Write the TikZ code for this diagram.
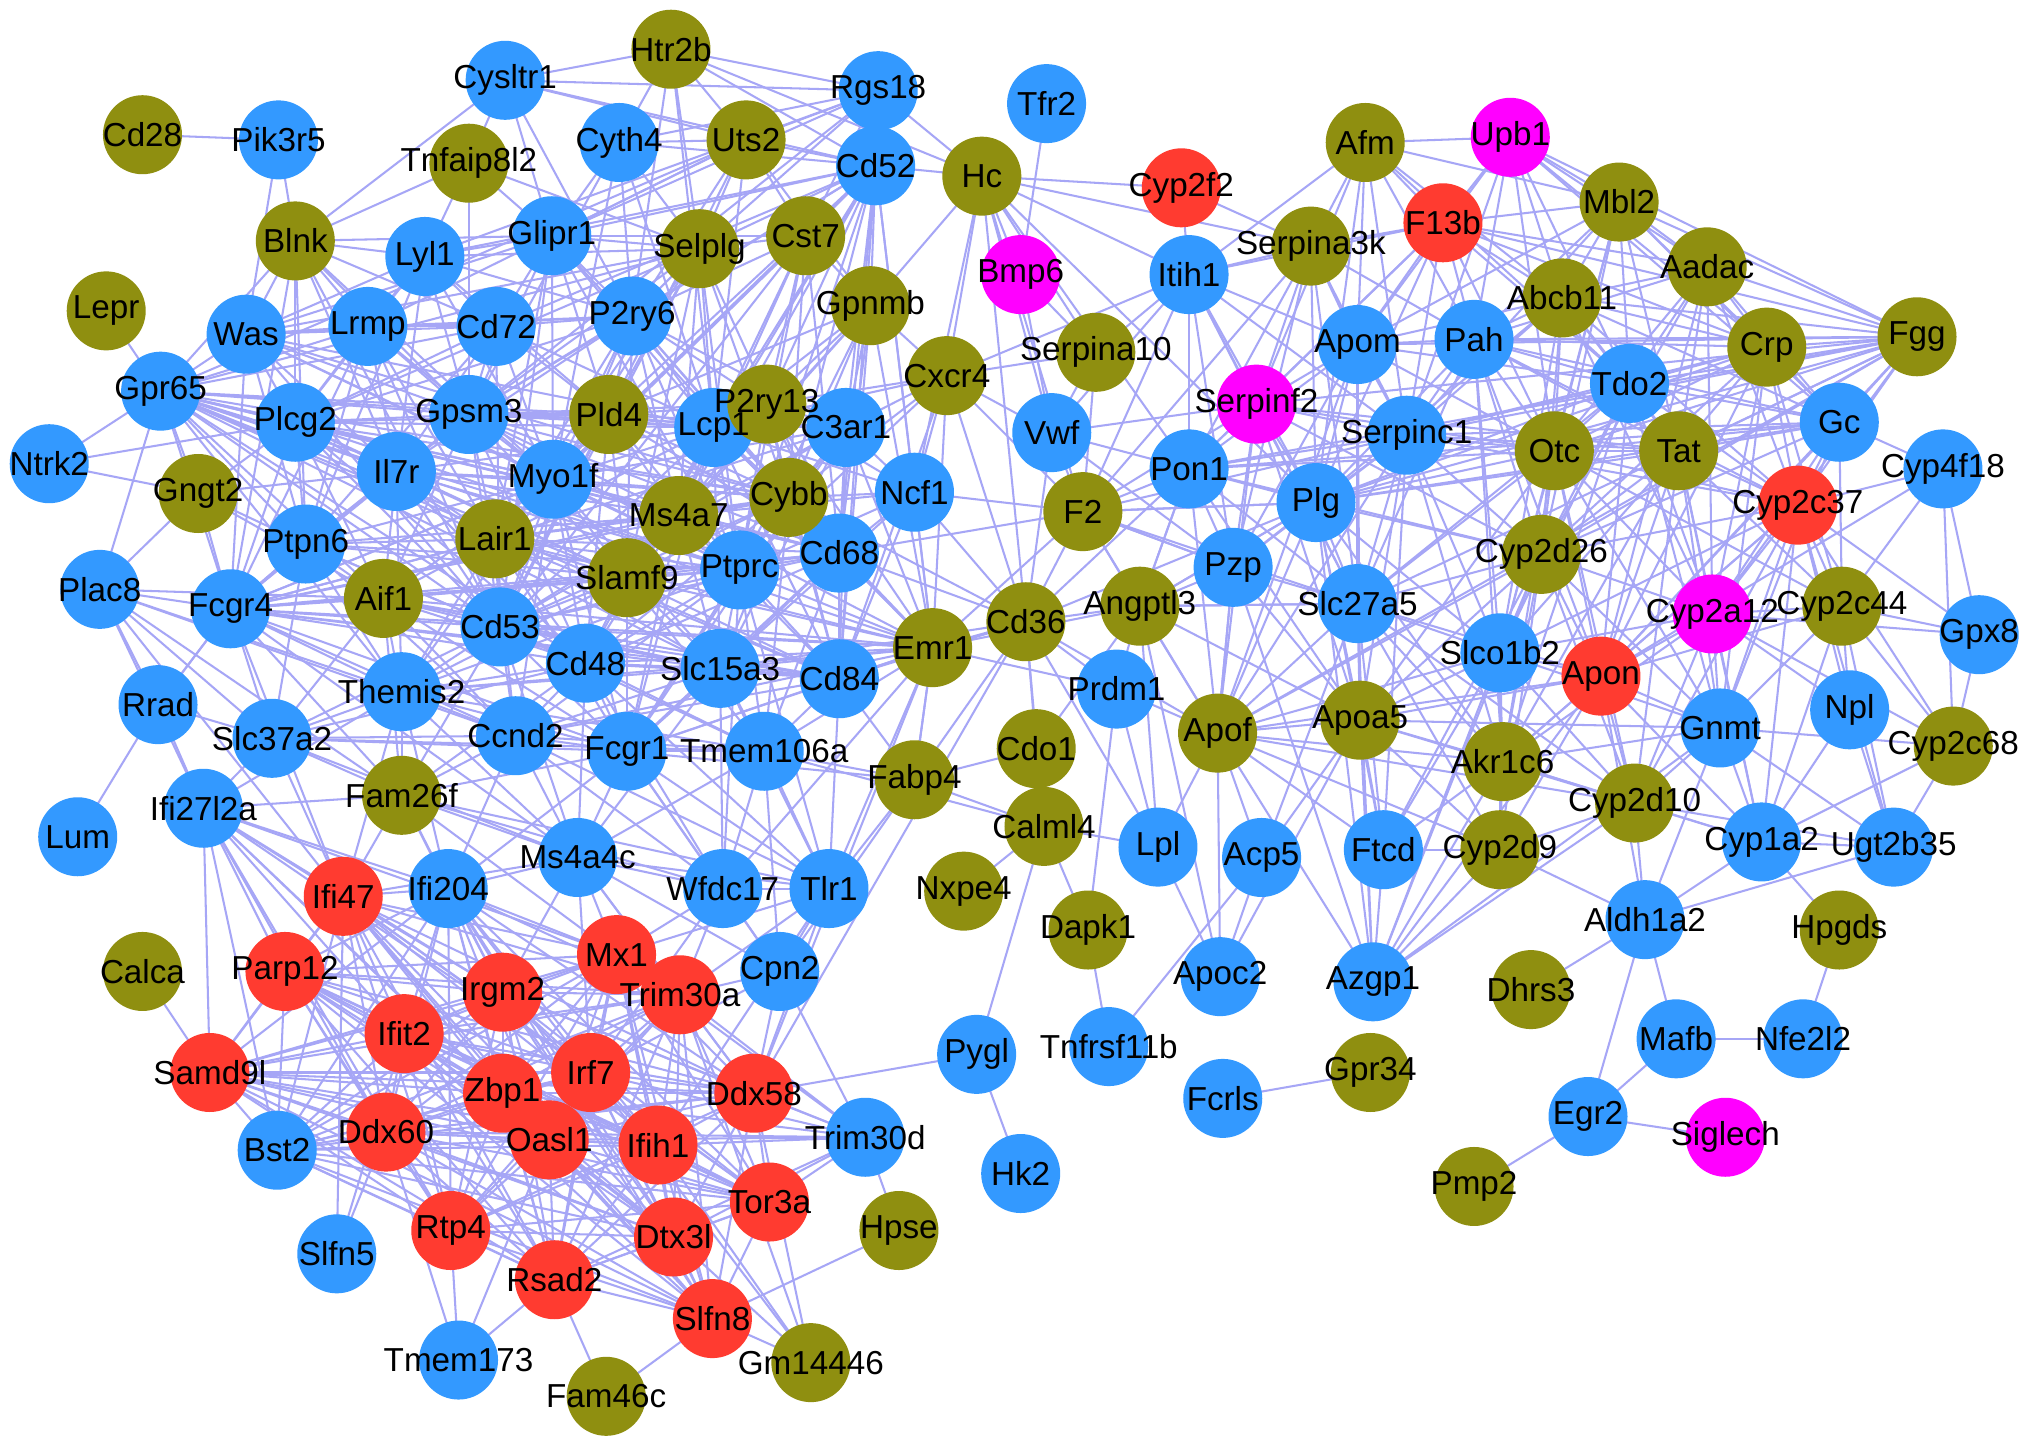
\documentclass[tikz,border=0pt]{standalone}
\usepackage{fontspec}
\setmainfont{Liberation Sans}
\definecolor{cblue}{RGB}{51,153,255}
\definecolor{colive}{RGB}{143,143,16}
\definecolor{cred}{RGB}{255,59,48}
\definecolor{cmag}{RGB}{255,0,255}
\definecolor{cedge}{RGB}{166,166,246}
\pgfdeclarelayer{back}
\pgfdeclarelayer{bg}
\pgfdeclarelayer{fg}
\pgfsetlayers{back,bg,main,fg}
\tikzset{
  gene/.style={circle,minimum size=6.1mm,inner sep=0pt,draw=none},
  lbl/.style={inner sep=0pt,font=\fontsize{7.3}{8.6}\selectfont,text=black},
  edge/.style={draw=cedge,line width=0.45pt}
}
\newcommand\genegroup[2]{%
  \foreach \n/\x/\y in {#2}{%
    \node[gene,fill=#1] (\n) at (\x,\y) {};
    \begin{pgfonlayer}{fg}\node[lbl] (\n-l) at (\x,\y) {\n};\end{pgfonlayer}
  }}
\begin{document}
\begin{tikzpicture}[x=0.1mm,y=-0.1mm]
\useasboundingbox (0,0) rectangle (1568,1119);
\begin{pgfonlayer}{back}\fill[white] (0,0) rectangle (1568,1119);\end{pgfonlayer}
% ---------------- nodes ----------------
\genegroup{cblue}{Pik3r5/215/108, Cysltr1/390/62, Rgs18/678/70, Tfr2/808/80, Cyth4/478/110, Cd52/676/128, Lyl1/328/198, Glipr1/426/182, Was/190/258, Lrmp/284/252, Cd72/383/252, P2ry6/488/244, Gpr65/124/302, Plcg2/228/326, Gpsm3/362/320, Lcp1/551/330, C3ar1/653/330, Vwf/812/334, Ntrk2/38/358, Il7r/306/364, Myo1f/427/370, Ncf1/706/380, Ptpn6/236/420, Ptprc/571/440, Cd68/648/427, Plac8/77/455, Fcgr4/178/470, Cd53/386/484, Cd48/452/512, Slc15a3/556/516, Cd84/648/524, Themis2/310/534, Rrad/122/544, Slc37a2/210/570, Ccnd2/398/568, Fcgr1/484/580, Tmem106a/590/580, Prdm1/862/532, Ifi27l2a/157/624, Lum/60/646, Ms4a4c/446/662, Ifi204/346/686, Wfdc17/558/686, Tlr1/640/686, Lpl/894/654, Cpn2/602/750, Pygl/754/814, Tnfrsf11b/856/808, Bst2/214/888, Trim30d/668/878, Hk2/788/906, Slfn5/260/968, Tmem173/354/1050, Itih1/918/212, Apom/1048/266, Pah/1138/262, Serpinc1/1086/336, Tdo2/1258/296, Gc/1420/326, Pon1/918/362, Cyp4f18/1500/362, Plg/1016/388, Pzp/952/438, Slc27a5/1048/466, Gpx8/1528/490, Slco1b2/1158/504, Npl/1428/548, Gnmt/1328/562, Acp5/974/662, Ftcd/1068/656, Cyp1a2/1360/650, Ugt2b35/1462/654, Aldh1a2/1270/710, Apoc2/942/754, Azgp1/1060/758, Mafb/1294/802, Nfe2l2/1392/802, Fcrls/944/848, Egr2/1226/862}
\genegroup{colive}{Cd28/110/104, Htr2b/518/38, Tnfaip8l2/362/126, Uts2/576/108, Hc/758/136, Blnk/228/186, Selplg/540/192, Cst7/622/182, Lepr/82/240, Gpnmb/672/236, Cxcr4/731/290, Serpina10/846/272, Pld4/470/320, P2ry13/592/312, Gngt2/153/381, Ms4a7/524/398, Cybb/609/384, F2/836/395, Lair1/382/416, Slamf9/484/446, Aif1/296/462, Emr1/720/500, Cd36/792/480, Angptl3/880/468, Fabp4/706/602, Cdo1/800/578, Fam26f/310/614, Calml4/806/638, Calca/110/750, Nxpe4/744/688, Dapk1/840/718, Hpse/694/950, Gm14446/626/1052, Fam46c/468/1078, Afm/1054/110, Mbl2/1250/156, Serpina3k/1012/190, Abcb11/1206/230, Aadac/1318/206, Crp/1364/268, Fgg/1480/260, Otc/1200/348, Tat/1296/348, Cyp2d26/1190/428, Cyp2c44/1422/468, Apof/940/566, Apoa5/1050/556, Cyp2c68/1508/576, Akr1c6/1160/588, Cyp2d10/1262/620, Cyp2d9/1158/656, Hpgds/1420/718, Dhrs3/1182/764, Gpr34/1058/828, Pmp2/1138/916}
\genegroup{cred}{Cyp2f2/912/145, Ifi47/265/692, Mx1/476/737, Parp12/220/750, Irgm2/388/766, Trim30a/525/768, Ifit2/312/798, Samd9l/162/828, Zbp1/388/844, Irf7/456/828, Ddx58/582/844, Ddx60/298/874, Oasl1/424/880, Ifih1/508/884, Tor3a/594/928, Rtp4/348/950, Dtx3l/520/955, Rsad2/428/988, Slfn8/550/1018, F13b/1114/172, Cyp2c37/1388/390, Apon/1236/522}
\genegroup{cmag}{Upb1/1166/106, Bmp6/788/212, Serpinf2/970/312, Cyp2a12/1322/474, Siglech/1332/878}
% ---------------- edges ----------------
\begin{pgfonlayer}{bg}
\def\redset{Ifi47,Parp12,Mx1,Irgm2,Trim30a,Ifit2,Samd9l,Zbp1,Irf7,Ddx58,Ddx60,Oasl1,Ifih1,Rtp4,Dtx3l,Rsad2,Tor3a,Slfn8,Ifi204,Bst2}
\foreach \a [count=\i] in \redset {
  \foreach \b [count=\j] in \redset {
    \ifnum\j>\i \draw[edge] (\a.center) -- (\b.center); \fi
  }
}
\foreach \a/\bs in {
Cd28/{Pik3r5}, Pik3r5/{Blnk,Was}, Lepr/{Gpr65},
Cysltr1/{Htr2b,Rgs18,Uts2,Blnk,Glipr1,Cd52,P2ry6,Tnfaip8l2},
Htr2b/{Rgs18,Uts2,Cyth4,Selplg,P2ry6,Hc,Cd52,Lcp1},
Rgs18/{Uts2,Cd52,Hc,Cyth4,Selplg,Glipr1,Lyl1,Cst7,Gpsm3},
Tnfaip8l2/{Lyl1,Glipr1,Blnk,Selplg,Gpsm3},
Blnk/{Lyl1,Was,Gpr65,Lrmp,Cd72,Plcg2,Ptpn6,Il7r,Gpsm3,Myo1f,Glipr1,Cd53,Fcgr4},
Cd52/{Selplg,Cst7,Gpnmb,P2ry6,P2ry13,Lcp1,C3ar1,Cybb,Ncf1,Pld4,Gpsm3,Ptprc,Cd68,Myo1f,Cd84,Glipr1,Cyth4,Lyl1,Cd72,Ms4a7,Slamf9,Emr1,Hc,Uts2},
Hc/{Cyp2f2,Bmp6,Cxcr4,Vwf,F2,Serpina10,Gpnmb,Pon1,Itih1,Cd36,Ncf1,Plg,Serpina3k},
Tfr2/{Bmp6}, Bmp6/{Vwf,Serpina10}, Cyp2f2/{Itih1,Serpina3k},
Was/{Gpr65,Lrmp,Plcg2,Cd72,Glipr1,Lyl1,Ptpn6,Il7r,Gpsm3,Myo1f,Fcgr4,Cd53,Ptprc,Lcp1,Cybb,P2ry6},
Lyl1/{Glipr1,Lrmp,Cd72,Gpsm3,Il7r,Myo1f,Plcg2,Ptpn6,Pld4,P2ry6,Selplg},
Glipr1/{Selplg,Cd72,P2ry6,Gpsm3,Myo1f,Pld4,Lcp1,Cyth4,Uts2,Cst7,Ptprc,Lair1,Cd53,Lrmp,Cybb},
Selplg/{Cst7,P2ry6,Gpsm3,Myo1f,Lcp1,Ptprc,Cybb,Ms4a7,Cd53,Lair1,Pld4,Uts2,Cyth4,Cd68,Slamf9,Was,Plcg2,Gpr65},
Cyth4/{Uts2,P2ry6,Gpsm3,Myo1f,Lcp1},
Uts2/{Cst7,Gpnmb,Glipr1,P2ry6,Lcp1,Cd53,Gpr65},
Cst7/{Gpnmb,P2ry6,Lcp1,Ptprc,Cybb,Ms4a7,Cd68,Myo1f,P2ry13,Lair1,Cd53},
Gpnmb/{Cxcr4,Lcp1,Cd68,C3ar1,Ptprc,Cybb,Ms4a7,P2ry13,Emr1,Cd84,Slamf9,Pld4},
Cxcr4/{Vwf,F2,C3ar1,Ncf1,Lcp1,Cd84,Ptprc,Emr1,Serpina10,Cybb,P2ry13,Itih1},
Lrmp/{Gpr65,Plcg2,Cd72,Gpsm3,Il7r,Myo1f,Ptpn6,Cd53,Fcgr4,Lair1,P2ry6},
Cd72/{Gpsm3,P2ry6,Plcg2,Il7r,Myo1f,Pld4,Ptpn6,Lcp1,Cd53,Gpr65},
P2ry6/{Gpsm3,Pld4,Lcp1,Myo1f,Ms4a7,Cybb,Ptprc,P2ry13,C3ar1,Cd53,Cd68,Lair1,Slamf9,Il7r,Plcg2},
Gpr65/{Ntrk2,Plcg2,Gngt2,Il7r,Ptpn6,Fcgr4,Aif1,Myo1f,Gpsm3,Lair1,Cd53,Cd48,Ptprc,Lcp1,Slamf9,Ms4a7,Cybb,Themis2,Plac8,Cd68,Pld4,Slc15a3,Cd84,Emr1},
Ntrk2/{Gngt2,Plcg2},
Plcg2/{Gpsm3,Il7r,Ptpn6,Myo1f,Lair1,Cd53,Fcgr4,Aif1,Gngt2,Ptprc,Lcp1,Pld4,Ms4a7,Cybb,Cd48,Slamf9},
Gpsm3/{Pld4,Lcp1,Il7r,Myo1f,Ptpn6,Lair1,Cd53,Ms4a7,Ptprc,Cybb,P2ry13,C3ar1,Cd68,Slamf9,Fcgr4,Aif1,Cd48},
Pld4/{Lcp1,P2ry13,Myo1f,Ms4a7,Cybb,Ptprc,Cd68,C3ar1,Lair1,Slamf9,Cd53,Cd48},
P2ry13/{Lcp1,C3ar1,Cybb,Ms4a7,Cd68,Ptprc,Ncf1,Emr1,Cd84},
Lcp1/{C3ar1,Myo1f,Ms4a7,Cybb,Ptprc,Cd68,Slamf9,Lair1,Cd53,Cd48,Slc15a3,Cd84,Ncf1,Il7r,Fcgr1,Emr1},
C3ar1/{Ncf1,Cybb,Ms4a7,Ptprc,Cd68,Cd84,Slc15a3,Emr1,Fcgr1,Myo1f,Lair1,Cd53},
Gngt2/{Ptpn6,Fcgr4,Il7r,Aif1},
Il7r/{Myo1f,Ptpn6,Lair1,Cd53,Fcgr4,Aif1,Ms4a7,Ptprc,Cybb,Slamf9,Cd48,Themis2},
Myo1f/{Ms4a7,Cybb,Lair1,Slamf9,Ptprc,Cd68,Cd53,Cd48,Slc15a3,Aif1,Ptpn6,Fcgr4,Fcgr1,Themis2,Ccnd2},
Ms4a7/{Cybb,Slamf9,Ptprc,Cd68,Lair1,Cd53,Cd48,Slc15a3,Cd84,Emr1,Fcgr1,Ncf1},
Cybb/{Ncf1,Ptprc,Cd68,Slamf9,Cd84,Slc15a3,Emr1,Cd53,Cd48,Lair1,Fcgr1,Tmem106a,Cd36},
Ncf1/{Cd68,Ptprc,Emr1,Cd84,Slc15a3,F2},
Ptpn6/{Lair1,Aif1,Fcgr4,Cd53,Themis2,Slamf9,Cd48,Ptprc,Ms4a7,Slc37a2,Ccnd2},
Lair1/{Slamf9,Aif1,Cd53,Cd48,Ptprc,Cd68,Slc15a3,Fcgr4,Themis2,Ccnd2,Fcgr1,Cd84,Emr1},
Slamf9/{Ptprc,Cd68,Cd53,Cd48,Slc15a3,Cd84,Emr1,Fcgr1,Aif1,Themis2,Tmem106a},
Ptprc/{Cd68,Cd53,Cd48,Slc15a3,Cd84,Emr1,Fcgr1,Tmem106a,Aif1,Themis2,Ccnd2,Fcgr4,Tlr1,Wfdc17},
Cd68/{Cd84,Emr1,Slc15a3,Cd48,Cd53,Fcgr1,Tmem106a,Cd36,Aif1,Fcgr4},
Plac8/{Fcgr4,Aif1,Rrad,Ifi27l2a,Slc37a2,Fam26f,Themis2,Ifi47,Ccnd2,Gngt2},
Fcgr4/{Aif1,Cd53,Themis2,Slc37a2,Ccnd2,Cd48,Slc15a3,Fcgr1,Ms4a4c,Lair1,Slamf9,Cd84,Emr1,Fam26f,Ifi47,Rrad,Ptpn6,Myo1f,Ms4a7,Cybb},
Aif1/{Cd53,Cd48,Themis2,Slc15a3,Fcgr1,Ccnd2,Cd84,Emr1,Slc37a2,Fam26f},
Cd53/{Cd48,Slc15a3,Cd84,Emr1,Fcgr1,Themis2,Ccnd2,Tmem106a,Fam26f,Ms4a4c,Slc37a2},
Cd48/{Slc15a3,Cd84,Emr1,Fcgr1,Themis2,Ccnd2,Tmem106a,Ms4a4c,Fam26f,Slc37a2,Wfdc17,Tlr1},
Slc15a3/{Cd84,Emr1,Fcgr1,Tmem106a,Ccnd2,Themis2,Tlr1,Wfdc17,Ms4a4c,Cd36},
Cd84/{Emr1,Fcgr1,Tmem106a,Ccnd2,Tlr1,Cd36,Fabp4},
Emr1/{Cd36,Fcgr1,Tmem106a,Tlr1,Fabp4,Angptl3,Prdm1,F2,Ccnd2,Themis2,Wfdc17,Ddx58},
Themis2/{Slc37a2,Ccnd2,Fcgr1,Fam26f,Ms4a4c,Ifi27l2a,Ifi47,Ifi204,Tmem106a},
Rrad/{Lum,Slc37a2,Ifi27l2a,Fcgr4},
Slc37a2/{Ccnd2,Fcgr1,Fam26f,Ifi27l2a,Ms4a4c,Ifi47,Tmem106a},
Ccnd2/{Fcgr1,Tmem106a,Fam26f,Ms4a4c,Ifi204,Wfdc17,Tlr1},
Fcgr1/{Tmem106a,Ms4a4c,Wfdc17,Tlr1,Ifi204,Fam26f,Cpn2,Fabp4},
Tmem106a/{Tlr1,Wfdc17,Ms4a4c,Fabp4,Cpn2,Calml4},
Fam26f/{Ms4a4c,Ifi204,Ifi47,Ifi27l2a,Tlr1,Wfdc17,Mx1,Irgm2},
Ifi27l2a/{Ifi47,Parp12,Samd9l,Ifit2,Irgm2,Ddx60,Bst2,Mx1,Zbp1,Irf7,Rtp4,Oasl1,Ifi204},
Calca/{Samd9l},
Ms4a4c/{Ifi204,Wfdc17,Tlr1,Ifi47,Mx1,Irgm2,Trim30a,Cpn2,Ddx58,Irf7},
Wfdc17/{Tlr1,Cpn2,Mx1,Trim30a,Irf7},
Tlr1/{Cpn2,Ddx58,Trim30a,Fabp4,Mx1,Ifih1},
Cpn2/{Trim30a,Ddx58,Trim30d,Fabp4,Irf7},
Fabp4/{Calml4,Cd36,Cdo1,Emr1},
Cd36/{Angptl3,F2,Apof,Prdm1,Calml4,Lpl,Cdo1,Pon1,Plg,Vwf,Ddx58,Ncf1,Cxcr4},
Slfn5/{Ddx60,Ifit2,Ifi47},
Tmem173/{Rtp4,Rsad2,Oasl1,Ddx60},
Fam46c/{Rsad2,Slfn8},
Gm14446/{Slfn8,Dtx3l,Ifih1,Trim30a,Ddx58,Irf7},
Hpse/{Slfn8,Trim30d},
Trim30d/{Ddx58,Ifih1,Tor3a,Irf7,Trim30a,Zbp1,Dtx3l,Oasl1,Ddx60,Mx1,Irgm2,Rsad2},
Pygl/{Ddx58,Hk2,Calml4},
Fgg/{Mbl2,Aadac,Abcb11,Crp,Tdo2,Pah,Apom,Gc,Tat,Otc,Serpinc1,Plg,Cyp2c37,F13b,Upb1,Cyp2d26,Slc27a5,Apof,Pon1,Serpinf2,Cyp2a12,Apon},
Afm/{Upb1,F13b,Serpina3k,Apom,Pah,Abcb11,Mbl2,Serpinc1,Serpinf2,Itih1,Plg,Tdo2},
Upb1/{F13b,Mbl2,Abcb11,Aadac,Pah,Apom,Tdo2,Serpinc1,Otc,Crp,Gc},
F13b/{Mbl2,Serpina3k,Apom,Pah,Abcb11,Serpinc1,Serpinf2,Plg,Tdo2,Otc,Aadac,Crp,Itih1,Pon1},
Mbl2/{Aadac,Abcb11,Pah,Crp,Tdo2,Otc,Tat,Gc,Serpinc1,Apom,Cyp2d26,Slco1b2},
Aadac/{Crp,Abcb11,Tdo2,Gc,Tat,Otc,Pah,Cyp2c37,Cyp2d26,Apon,Cyp2a12},
Serpina3k/{Itih1,Apom,Serpinf2,Pah,Plg,Pon1,Serpinc1,Slc27a5,Pzp,F2},
Abcb11/{Pah,Crp,Tdo2,Otc,Tat,Gc,Cyp2d26,Slco1b2,Serpinc1,Apom,Plg,Cyp2c37,Cyp2a12},
Apom/{Pah,Serpinf2,Serpinc1,Plg,Pon1,Slc27a5,Otc,Tdo2,Apoa5,Apof,Itih1,Pzp},
Pah/{Tdo2,Otc,Tat,Crp,Serpinc1,Plg,Cyp2d26,Slco1b2,Slc27a5,Gc,Cyp2c37,Apon,Akr1c6},
Crp/{Tdo2,Gc,Tat,Otc,Cyp2c37,Cyp2d26,Serpinc1,Plg,Apon,Cyp2a12,Cyp2c44,Gnmt},
Tdo2/{Otc,Tat,Gc,Cyp2c37,Cyp2d26,Serpinc1,Plg,Slco1b2,Apon,Cyp2a12,Gnmt,Akr1c6,Slc27a5},
Gc/{Tat,Cyp2c37,Cyp2a12,Cyp2c44,Otc,Cyp2d26,Gnmt,Apon,Serpinc1,Plg,Cyp4f18,Pon1},
Serpinf2/{Serpinc1,Plg,Pon1,Pzp,Slc27a5,F2,Vwf,Itih1,Apof,Apoa5,Otc,Cyp2d26,Tat},
Serpinc1/{Plg,Otc,Tat,Pon1,Pzp,Slc27a5,Cyp2d26,Slco1b2,Apof,Apoa5,Akr1c6,Ftcd,Cyp2c37,F2},
Pon1/{Plg,Pzp,F2,Vwf,Slc27a5,Apof,Apoa5,Angptl3,Otc,Cyp2d26,Itih1},
Otc/{Tat,Plg,Cyp2d26,Slco1b2,Slc27a5,Apon,Cyp2a12,Cyp2c37,Gnmt,Akr1c6,Apoa5,Cyp2d10,Cyp2c44},
Tat/{Cyp2c37,Cyp2d26,Cyp2a12,Slco1b2,Apon,Gnmt,Cyp2c44,Plg,Akr1c6,Cyp2d10,Cyp1a2},
Plg/{Pzp,Slc27a5,Cyp2d26,Slco1b2,F2,Apof,Apoa5,Akr1c6,Angptl3,Azgp1,Ftcd},
Cyp2c37/{Cyp2a12,Cyp2c44,Gnmt,Apon,Cyp2d26,Cyp4f18,Gpx8,Cyp2c68,Npl,Cyp1a2,Ugt2b35,Slco1b2,Akr1c6,Cyp2d10},
Pzp/{Slc27a5,F2,Angptl3,Apof,Apoa5,Vwf,Azgp1},
Cyp2d26/{Slc27a5,Slco1b2,Apon,Cyp2a12,Akr1c6,Apoa5,Gnmt,Cyp2d10,Cyp2d9,Apof,Ftcd},
Slc27a5/{Slco1b2,Apoa5,Apof,Akr1c6,Ftcd,Azgp1,Apon,Cyp2d9,Acp5,Cyp2d10,Angptl3},
Cyp2a12/{Cyp2c44,Apon,Gnmt,Cyp1a2,Cyp2d10,Slco1b2,Akr1c6,Cyp2c68,Npl,Gpx8},
Cyp2c44/{Gpx8,Cyp2c68,Gnmt,Npl,Cyp1a2,Ugt2b35,Cyp4f18,Apon},
Cyp4f18/{Gpx8,Cyp2c68,Apon},
Gpx8/{Cyp2c68},
Slco1b2/{Apon,Akr1c6,Apoa5,Apof,Cyp2d10,Cyp2d9,Ftcd,Azgp1,Gnmt},
Apon/{Gnmt,Akr1c6,Cyp2d10,Cyp1a2,Apoa5,Cyp2d9,Apof,Azgp1,Aldh1a2},
Apof/{Apoa5,Akr1c6,Ftcd,Acp5,Azgp1,Apoc2,Lpl,Prdm1,Angptl3,F2,Pzp,Cyp2d9,Cyp2d10},
Apoa5/{Akr1c6,Ftcd,Azgp1,Cyp2d9,Acp5,Cyp2d10,Apoc2,Gnmt},
Gnmt/{Cyp1a2,Cyp2d10,Akr1c6,Ugt2b35,Cyp2c68,Aldh1a2},
Akr1c6/{Cyp2d10,Cyp2d9,Ftcd,Azgp1,Cyp1a2},
Cyp2d10/{Cyp1a2,Cyp2d9,Aldh1a2,Azgp1,Ugt2b35},
Cyp1a2/{Ugt2b35,Aldh1a2,Hpgds,Cyp2c68,Npl},
Ugt2b35/{Aldh1a2,Cyp2c68,Npl},
Aldh1a2/{Mafb,Egr2,Dhrs3,Cyp2d9},
Azgp1/{Ftcd,Cyp2d9,Cyp2d26,Gnmt},
Ftcd/{Cyp2d9},
Acp5/{Apoc2,Tnfrsf11b},
Apoc2/{Lpl,Angptl3},
Lpl/{Angptl3,Calml4,Prdm1},
Prdm1/{Angptl3,Dapk1},
Tnfrsf11b/{Dapk1},
Angptl3/{F2,Apoa5,Slc27a5,Pon1,Plg},
F2/{Vwf,Plg,Pzp,Serpina10,Itih1,Slc27a5,Cd68},
Vwf/{Serpina10,Itih1},
Serpina10/{Itih1},
Itih1/{Serpinc1,Slc27a5,Pzp,Plg},
Hpgds/{Nfe2l2}, Mafb/{Nfe2l2,Egr2}, Egr2/{Siglech,Pmp2}, Fcrls/{Gpr34},
Calml4/{Cdo1,Nxpe4,Dapk1}, Cdo1/{Angptl3}}{%
  \foreach \b in \bs {\draw[edge] (\a.center) -- (\b.center);}
}
\end{pgfonlayer}
\end{tikzpicture}
\end{document}
